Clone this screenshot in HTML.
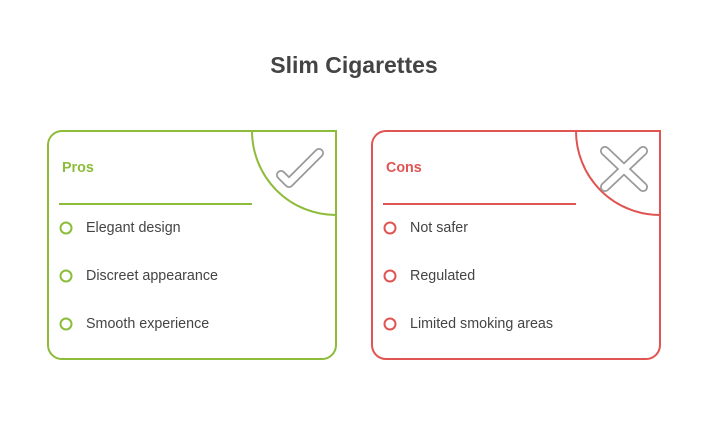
<!DOCTYPE html>
<html><head><style>
body{margin:0;width:708px;height:432px;background:#fff;font-family:"Liberation Sans",sans-serif;position:relative;overflow:hidden}
.t{position:absolute;font-size:14.3px;color:#444}
</style></head><body>
<div style="position:absolute;left:0;width:708px;top:52px;text-align:center;font-size:23px;font-weight:bold;color:#444">Slim Cigarettes</div>
<svg width="708" height="432" style="position:absolute;left:0;top:0">
<path d="M62,131 H336 V345 A14,14 0 0 1 322,359 H62 A14,14 0 0 1 48,345 V145 A14,14 0 0 1 62,131Z" fill="none" stroke="#8dbb3a" stroke-width="2"/>
<path d="M252,131 A84,84 0 0 0 336,215" fill="none" stroke="#8dbb3a" stroke-width="2"/>
<line x1="59" y1="204" x2="252" y2="204" stroke="#8dbb3a" stroke-width="2"/>
<g fill="none" stroke="#8dbb3a" stroke-width="2"><circle cx="66" cy="228" r="5.5"/><circle cx="66" cy="276" r="5.5"/><circle cx="66" cy="324" r="5.5"/></g>
<path d="M281,175 L289,183 L319,153" fill="none" stroke="#999" stroke-width="10" stroke-linecap="round" stroke-linejoin="round"/>
<path d="M281,175 L289,183 L319,153" fill="none" stroke="#fff" stroke-width="6.5" stroke-linecap="round" stroke-linejoin="round"/>
<path d="M386,131 H660 V345 A14,14 0 0 1 646,359 H386 A14,14 0 0 1 372,345 V145 A14,14 0 0 1 386,131Z" fill="none" stroke="#e05452" stroke-width="2"/>
<path d="M576,131 A84,84 0 0 0 660,215" fill="none" stroke="#e05452" stroke-width="2"/>
<line x1="383" y1="204" x2="576" y2="204" stroke="#e05452" stroke-width="2"/>
<g fill="none" stroke="#e05452" stroke-width="2"><circle cx="390" cy="228" r="5.5"/><circle cx="390" cy="276" r="5.5"/><circle cx="390" cy="324" r="5.5"/></g>
<g fill="none" stroke-linecap="round"><path d="M605,151 L643,187 M643,151 L605,187" stroke="#999" stroke-width="10"/><path d="M605,151 L643,187 M643,151 L605,187" stroke="#fff" stroke-width="6.5"/></g>
</svg>
<div class="t" style="left:62px;top:160px;font-weight:bold;color:#8dbb3a">Pros</div>
<div class="t" style="left:86px;top:220px">Elegant design</div>
<div class="t" style="left:86px;top:268px">Discreet appearance</div>
<div class="t" style="left:86px;top:316px">Smooth experience</div>
<div class="t" style="left:386px;top:160px;font-weight:bold;color:#e05452">Cons</div>
<div class="t" style="left:410px;top:220px">Not safer</div>
<div class="t" style="left:410px;top:268px">Regulated</div>
<div class="t" style="left:410px;top:316px">Limited smoking areas</div>
</body></html>
